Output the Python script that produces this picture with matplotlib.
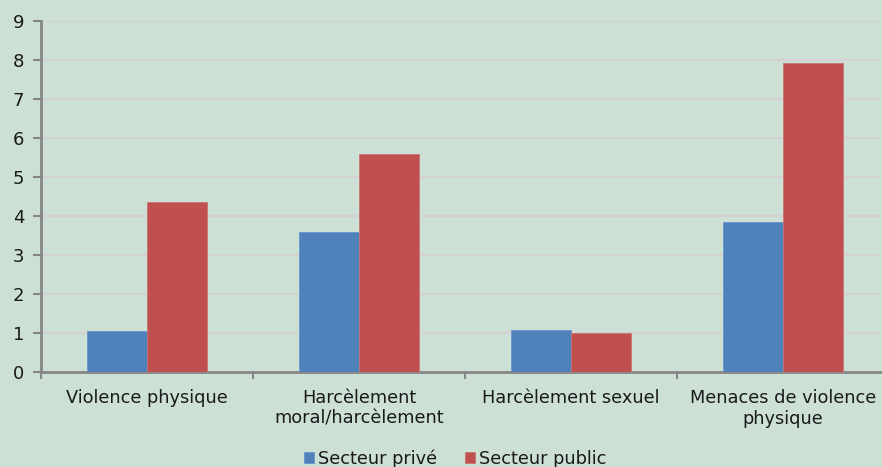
import matplotlib
matplotlib.use("Agg")
import matplotlib.pyplot as plt
import numpy as np

categories = ["Violence physique", "Harcèlement\nmoral/harcèlement", "Harcèlement sexuel", "Menaces de violence\nphysique"]
prive = [1.04, 3.58, 1.08, 3.85]
public = [4.36, 5.59, 1.00, 7.92]
series_names = ["Secteur privé", "Secteur public"]
yticks = list(range(0, 10))

bg = "#CDE0D5"
blue = "#4F81BD"
red = "#C0504D"
axis_col = "#868686"
grid_col = "#D5D0D2"
txt = "#1A1A1A"

plt.rcParams['font.family'] = ['DejaVu Sans']

fig = plt.figure(figsize=(8.82, 4.67), dpi=100, facecolor=bg)
ax = fig.add_axes([41/882, 1 - 372/467, (889-41)/882, (372-21)/467])
ax.set_facecolor(bg)

x = np.arange(len(categories))
w = 0.285
ax.bar(x - w/2, prive, w, color=blue, edgecolor="#6A93C8", linewidth=0.6, label=series_names[0], zorder=3)
ax.bar(x + w/2, public, w, color=red, edgecolor="#C97370", linewidth=0.6, label=series_names[1], zorder=3)

ax.set_xlim(-0.5, len(categories) - 0.5)
ax.set_ylim(0, 9)
ax.set_yticks(yticks)
ax.yaxis.grid(True, color=grid_col, linewidth=1.5, zorder=0)
ax.set_axisbelow(True)

ax.set_xticks(np.arange(len(categories) + 1) - 0.5, minor=False)
ax.set_xticklabels([])
ax.set_xticks(x, minor=True)
ax.set_xticklabels(categories, minor=True, fontsize=12.8, color=txt, linespacing=1.22)
ax.tick_params(axis='x', which='minor', length=0, pad=12)
ax.tick_params(axis='x', which='major', length=5, width=1.5, color=axis_col, direction='out')
ax.tick_params(axis='y', length=6, width=1.5, color=axis_col, direction='out', labelsize=13, labelcolor=txt, pad=6)

for s in ['top', 'right']:
    ax.spines[s].set_visible(False)
for s in ['left', 'bottom']:
    ax.spines[s].set_color(axis_col)
    ax.spines[s].set_linewidth(2)

leg = fig.legend(loc='lower center', bbox_to_anchor=(0.516, -0.036), ncol=2, frameon=False,
                 fontsize=12.8, handlelength=0.55, handleheight=0.55, handletextpad=0.2,
                 columnspacing=1.6)
for t in leg.get_texts():
    t.set_color(txt)

fig.savefig("out.png", dpi=100, facecolor=bg)
